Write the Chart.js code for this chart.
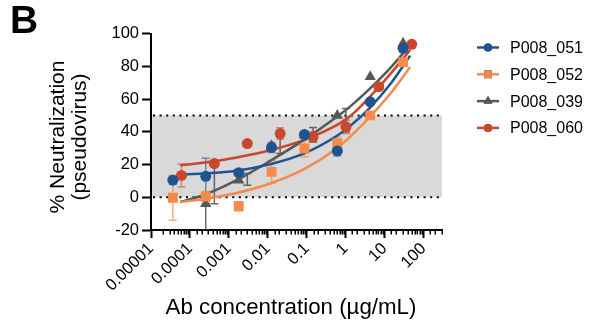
<!DOCTYPE html>
<html>
<head>
<meta charset="utf-8">
<script src="https://cdn.jsdelivr.net/npm/chart.js@4.4.1/dist/chart.umd.min.js"></script>
<style>
  html, body { margin: 0; padding: 0; background: #fff; }
  #wrap { position: relative; width: 591px; height: 322px; }
</style>
</head>
<body>
<div id="wrap"><canvas id="chart"></canvas></div>
<script>
// concentrations (ug/mL)
const concA = [0.0000364, 0.000255, 0.00179, 0.0125, 0.0875, 0.612, 4.29, 30]
const concB = [0.0000607, 0.000425, 0.00298, 0.0208, 0.146, 1.02, 7.14, 50]

const seriesNames = ['P008_051', 'P008_052', 'P008_039', 'P008_060']

// measured points (% neutralization)
const p051 = [10.4, 12.8, 15, 30.4, 38.3, 28.3, 58.3, 91]
const p051Err = [2.5, 11, 2, 3, 2, 3, 1.5, 2]
const p052 = [-0.3, 0.5, -5.5, 15.5, 29.8, 33, 50, 82.5]
const p052Err = [13.7, 3, 2.8, 7, 5, 4, 1.5, 2]
const p039 = [null, -3.9, 10.4, 31.5, 38, 50, 73.6, 94]
const p060 = [13.3, 20.6, 32.8, 38.9, 36.9, 43, 67.5, 93.4]
const p060Err = [7, 0, 0, 3.5, 3, 4, 1, 1]

// P008_039 error bars sit at their own x positions in the figure
const p039ErrX = [0.000255, 0.000425, 0.00298, 0.0208, 0.146, 1.02]
const p039ErrLo = [-20, -3.9, 7.3, 26.7, 33.8, 40]
const p039ErrHi = [-3.9, 19.6, 14.5, 36.7, 42.6, 54.2]

// fitted curves
const fitX = [0.0000562, 0.000219, 0.00158, 0.0115, 0.0832, 0.589, 1.32, 4.27, 13.8, 45.7]
const fit051 = [13.9, 14.5, 16.2, 20.1, 26.6, 37.4, 43.6, 54.8, 68.8, 86.5]
const fit052 = [-2.9, -1.2, 2.6, 8.4, 17, 29.8, 37, 49.2, 63, 79.5]
const fit039 = [-2.9, 1.2, 10.4, 22.2, 34.9, 49, 55.5, 66.5, 78.7, 93]
const fit060 = [19.6, 21, 24.3, 28.7, 34.9, 44, 49.6, 61.5, 75, 90]

const xTickLabels = ['0.00001', '0.0001', '0.001', '0.01', '0.1', '1', '10', '100']
const yTicks = [-20, 0, 20, 40, 60, 80, 100]
const xTitle = 'Ab concentration (µg/mL)'
const yTitle = ['% Neutralization', '(pseudovirus)']
const bandLow = 0
const bandHigh = 50

const colors = ['#1f5392', '#f58a4b', '#585858', '#c9472b']
const barColors = ['rgba(31,83,146,0.6)', 'rgba(245,138,75,0.7)', 'rgba(70,70,70,0.8)', 'rgba(201,71,43,0.6)']
const shapes = ['circle', 'rect', 'triangle', 'circle']
const radii = [5.5, 7, 6.5, 5.5]
const fontFam = 'Liberation Sans, Arial, Helvetica, sans-serif'

const toPts = (xs, ys) => xs.map((x, i) => ({ x: x, y: ys[i] })).filter(p => p.y !== null)
const isMajor = v => Math.abs(Math.log10(v) - Math.round(Math.log10(v))) < 1e-6

const pointSets = [[concA, p051], [concA, p052], [concA, p039], [concB, p060]]
const fitSets = [fit051, fit052, fit039, fit060]

const errorBars = [
  { color: barColors[0], x: concA, lo: p051.map((v, i) => v - p051Err[i]), hi: p051.map((v, i) => v + p051Err[i]) },
  { color: barColors[1], x: concA, lo: p052.map((v, i) => v - p052Err[i]), hi: p052.map((v, i) => v + p052Err[i]) },
  { color: barColors[2], x: p039ErrX, lo: p039ErrLo, hi: p039ErrHi },
  { color: barColors[3], x: concB, lo: p060.map((v, i) => v - p060Err[i]), hi: p060.map((v, i) => v + p060Err[i]) }
]

const datasets = []
seriesNames.forEach((name, i) => {
  datasets.push({
    label: name,
    data: toPts(pointSets[i][0], pointSets[i][1]),
    showLine: false,
    pointStyle: shapes[i],
    pointRadius: radii[i],
    pointBackgroundColor: colors[i],
    pointBorderColor: colors[i],
    pointBorderWidth: 0,
    order: 1
  })
  datasets.push({
    label: name + ' fit',
    data: toPts(fitX, fitSets[i]),
    showLine: true,
    borderColor: colors[i],
    borderWidth: 2.5,
    pointRadius: 0,
    cubicInterpolationMode: 'monotone',
    order: 5
  })
})

const bandPlugin = {
  id: 'band',
  beforeDraw(chart) {
    const { ctx, chartArea: a, scales: { y } } = chart
    const top = y.getPixelForValue(bandHigh), bot = y.getPixelForValue(bandLow)
    ctx.save()
    ctx.fillStyle = '#d9d9d9'
    ctx.fillRect(a.left, top, a.right - a.left, bot - top)
    ctx.strokeStyle = '#000'
    ctx.lineWidth = 2
    ctx.setLineDash([2, 4.6])
    ;[top, bot].forEach(py => {
      ctx.beginPath()
      ctx.moveTo(a.left + 2, py)
      ctx.lineTo(a.right, py)
      ctx.stroke()
    })
    ctx.restore()
  }
}

const errorBarPlugin = {
  id: 'errorBars',
  beforeDatasetsDraw(chart) {
    const { ctx, chartArea: a, scales: { x, y } } = chart
    ctx.save()
    ctx.beginPath()
    ctx.rect(a.left, a.top, a.right - a.left, a.bottom - a.top)
    ctx.clip()
    ctx.lineWidth = 1.5
    errorBars.forEach(bar => {
      ctx.strokeStyle = bar.color
      bar.x.forEach((xv, i) => {
        if (bar.lo[i] == null || Math.abs(bar.hi[i] - bar.lo[i]) < 0.01) return
        const px = x.getPixelForValue(xv)
        const top = y.getPixelForValue(bar.hi[i])
        const bot = y.getPixelForValue(bar.lo[i])
        ctx.beginPath()
        ctx.moveTo(px, top); ctx.lineTo(px, bot)
        ctx.moveTo(px - 4, top); ctx.lineTo(px + 4, top)
        ctx.moveTo(px - 4, bot); ctx.lineTo(px + 4, bot)
        ctx.stroke()
      })
    })
    ctx.restore()
  }
}

const extrasPlugin = {
  id: 'extras',
  afterDraw(chart) {
    const { ctx, scales: { x } } = chart
    ctx.save()
    // minor ticks on the log axis
    ctx.strokeStyle = '#000'
    ctx.lineWidth = 1.5
    x.ticks.forEach(t => {
      if (isMajor(t.value)) return
      const px = Math.round(x.getPixelForValue(t.value)) + 0.25
      ctx.beginPath()
      ctx.moveTo(px, x.top)
      ctx.lineTo(px, x.top + 4.5)
      ctx.stroke()
    })
    // axis titles
    ctx.fillStyle = '#000'
    ctx.textAlign = 'center'
    ctx.textBaseline = 'middle'
    ctx.font = '22.3px ' + fontFam
    ctx.fillText(xTitle, 291, 308)
    ctx.font = '21px ' + fontFam
    ctx.save()
    ctx.translate(58.5, 137)
    ctx.rotate(-Math.PI / 2)
    yTitle.forEach((line, i) => ctx.fillText(line, 0, i * 21.6))
    ctx.restore()
    // panel letter
    ctx.font = 'bold 39px ' + fontFam
    ctx.textBaseline = 'alphabetic'
    ctx.textAlign = 'left'
    ctx.fillText('B', 10, 33)
    // legend
    ctx.font = '16px ' + fontFam
    ctx.textBaseline = 'middle'
    seriesNames.forEach((name, i) => {
      const ly = 47.5 + i * 26.8
      ctx.strokeStyle = colors[i]
      ctx.lineWidth = 2.5
      ctx.beginPath()
      ctx.moveTo(477, ly)
      ctx.lineTo(499, ly)
      ctx.stroke()
      Chart.helpers.drawPoint(ctx, { pointStyle: shapes[i], radius: radii[i] - 1.5, borderWidth: 0 }, 488, ly)
      ctx.fillStyle = colors[i]
      ctx.fill()
      ctx.fillStyle = '#000'
      ctx.fillText(name, 510, ly + 1)
    })
    ctx.restore()
  }
}

Chart.defaults.font.family = fontFam
Chart.defaults.color = '#000'

new Chart(document.getElementById('chart'), {
  type: 'scatter',
  data: { datasets: datasets },
  options: {
    responsive: true,
    maintainAspectRatio: false,
    animation: false,
    layout: { padding: { top: 33.5, right: 149, left: 0, bottom: 0 } },
    plugins: { legend: { display: false }, tooltip: { enabled: false } },
    scales: {
      x: {
        type: 'logarithmic',
        min: 0.00001,
        max: 300,
        afterFit: s => { s.height = 92 },
        border: { color: '#000', width: 2 },
        grid: {
          drawOnChartArea: false,
          tickLength: 8,
          tickWidth: 2,
          tickColor: c => (c.tick && isMajor(c.tick.value)) ? '#000' : 'rgba(0,0,0,0)'
        },
        ticks: {
          autoSkip: false,
          minRotation: 45,
          maxRotation: 45,
          padding: 1,
          font: { size: 16.5 },
          callback: v => isMajor(v) ? xTickLabels[Math.round(Math.log10(v)) + 5] : ''
        }
      },
      y: {
        min: -20,
        max: 100,
        afterFit: s => { s.width = 151 },
        afterBuildTicks: s => { s.ticks = yTicks.map(v => ({ value: v })) },
        border: { color: '#000', width: 2 },
        grid: { drawOnChartArea: false, tickLength: 9, tickWidth: 2, tickColor: '#000' },
        ticks: { padding: 3, font: { size: 16.5 } }
      }
    }
  },
  plugins: [bandPlugin, errorBarPlugin, extrasPlugin]
})
</script>
</body>
</html>
